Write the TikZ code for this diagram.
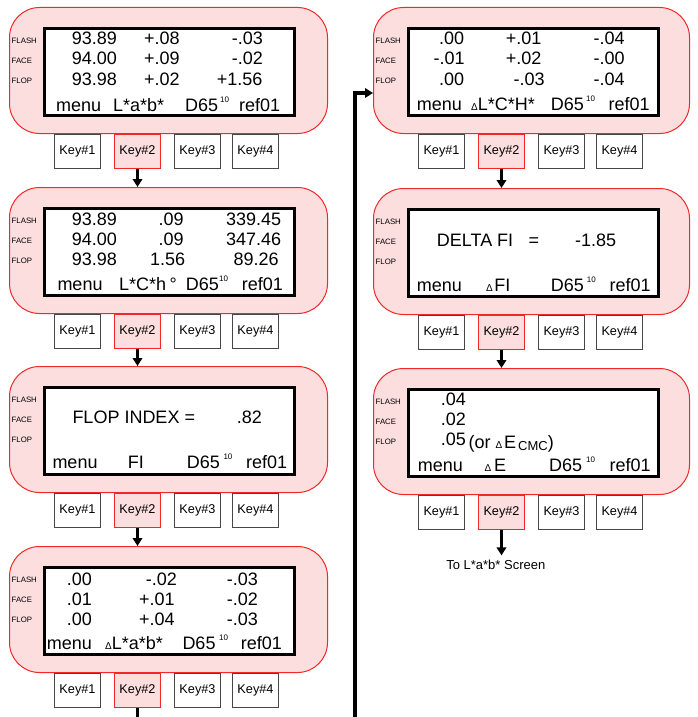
\documentclass[tikz,border=0pt]{standalone}
\usepackage{fontspec}
\setmainfont{Liberation Sans}
\usetikzlibrary{arrows.meta}
\definecolor{pfill}{RGB}{253,222,223}
\definecolor{pdraw}{RGB}{240,40,40}
\definecolor{kdraw}{RGB}{70,70,70}
\tikzset{
 panel/.style={draw=pdraw, fill=pfill, line width=1pt, rounded corners=30pt, minimum height=126pt, inner sep=0pt, anchor=north west},
 lcd/.style={draw=black, fill=white, line width=3pt, minimum width=250pt, minimum height=87pt, inner sep=0pt, anchor=north west},
 lab/.style={font=\fontsize{7.8}{9}\selectfont, inner sep=0pt, anchor=west},
 keyb/.style={draw=kdraw, fill=white, line width=0.8pt, minimum width=46.2pt, minimum height=34.2pt, inner sep=0pt, anchor=north west, font=\fontsize{12.7}{14}\selectfont},
 keyr/.style={keyb, draw=pdraw, fill=pfill},
 bt/.style={font=\fontsize{18}{20}\selectfont, inner sep=0pt, anchor=base west},
 sp/.style={font=\fontsize{8}{9}\selectfont, inner sep=0pt, anchor=base west},
 conn/.style={line width=3.2pt, -{Triangle[length=8pt,width=9.5pt]}},
 plainline/.style={line width=3.2pt},
}
\newcommand\mydelta{{\fontsize{10}{10}\selectfont Δ}}
\newcommand\pframe[4]{%
 \begin{scope}[shift={(#2,#3)}]
  \node[panel, minimum width=#4pt] (#1) at (0,0) {};
  \node[lcd] (#1lcd) at (34,20) {};
  \node[lab] (#1fl) at (2.5,34) {FLASH};
  \node[lab] (#1fa) at (2.5,54) {FACE};
  \node[lab] (#1fo) at (2.5,73.5) {FLOP};
  \node[keyb] (#1ka) at (45,127) {Key\#1};
  \node[keyr] (#1kb) at (105,127) {Key\#2};
  \node[keyb] (#1kc) at (165,127) {Key\#3};
  \node[keyb] (#1kd) at (223,127) {Key\#4};
 \end{scope}}
\begin{document}
\begin{tikzpicture}[x=1pt,y=-1pt]
\useasboundingbox (0,0) rectangle (697,717);
\pframe{L1}{9}{7}{318}
\pframe{L2}{9}{187}{318}
\pframe{L3}{9}{366}{318}
\pframe{L4}{9}{546}{318}
\pframe{R1}{373}{7}{316}
\pframe{R2}{373}{188}{316}
\pframe{R3}{373}{368}{316}

% Panel L1
\node[bt] (L1a1) at (71.7,45) {93.89};
\node[bt] (L1a2) at (144,45) {+.08};
\node[bt] (L1a3) at (231.7,45) {-.03};
\node[bt] (L1b1) at (71.7,65) {94.00};
\node[bt] (L1b2) at (144,65) {+.09};
\node[bt] (L1b3) at (231.7,65) {-.02};
\node[bt] (L1c1) at (71.7,85) {93.98};
\node[bt] (L1c2) at (144,85) {+.02};
\node[bt] (L1c3) at (216.7,85) {+1.56};
\node[bt] (L1m) at (56,111) {menu};
\node[bt] (L1s) at (113,111) {L*a*b*};
\node[bt] (L1d) at (185,111) {D65};
\node[sp] (L1t) at (220,102) {10};
\node[bt] (L1r) at (239,111) {ref01};

% Panel L2
\node[bt] (L2a1) at (71.7,225) {93.89};
\node[bt] (L2a2) at (158.3,225) {.09};
\node[bt] (L2a3) at (226,225) {339.45};
\node[bt] (L2b1) at (71.7,245) {94.00};
\node[bt] (L2b2) at (158.3,245) {.09};
\node[bt] (L2b3) at (226,245) {347.46};
\node[bt] (L2c1) at (71.7,265) {93.98};
\node[bt] (L2c2) at (150,265) {1.56};
\node[bt] (L2c3) at (233.3,265) {89.26};
\node[bt] (L2m) at (57.3,290) {menu};
\node[bt] (L2s) at (119,290) {L*C*h};
\node[bt] (L2g) at (169.5,290) {°};
\node[bt] (L2d) at (185.7,290) {D65};
\node[sp] (L2t) at (219,281) {10};
\node[bt] (L2r) at (241.7,290) {ref01};

% Panel L3
\node[bt] (L3a1) at (72.3,423.3) {FLOP INDEX =};
\node[bt] (L3a2) at (236.7,423.3) {.82};
\node[bt] (L3m) at (52.3,468.3) {menu};
\node[bt] (L3s) at (127.7,468.3) {FI};
\node[bt] (L3d) at (186.7,468.3) {D65};
\node[sp] (L3t) at (223.3,459.3) {10};
\node[bt] (L3r) at (246,468.3) {ref01};

% Panel L4
\node[bt] (L4a1) at (66.7,585) {.00};
\node[bt] (L4a2) at (145.7,585) {-.02};
\node[bt] (L4a3) at (226.7,585) {-.03};
\node[bt] (L4b1) at (66.7,605) {.01};
\node[bt] (L4b2) at (139,605) {+.01};
\node[bt] (L4b3) at (226.7,605) {-.02};
\node[bt] (L4c1) at (66.7,625) {.00};
\node[bt] (L4c2) at (139,625) {+.04};
\node[bt] (L4c3) at (226.7,625) {-.03};
\node[bt] (L4m) at (46.7,649.3) {menu};
\node[bt] (L4s) at (105,649.3) {\mydelta L*a*b*};
\node[bt] (L4d) at (182.3,649.3) {D65};
\node[sp] (L4t) at (219,640.3) {10};
\node[bt] (L4r) at (240.7,649.3) {ref01};

% Panel R1
\node[bt] (R1a1) at (439,45) {.00};
\node[bt] (R1a2) at (505.7,45) {+.01};
\node[bt] (R1a3) at (593.3,45) {-.04};
\node[bt] (R1b1) at (433.3,65) {-.01};
\node[bt] (R1b2) at (505.7,65) {+.02};
\node[bt] (R1b3) at (593.3,65) {-.00};
\node[bt] (R1c1) at (439,85) {.00};
\node[bt] (R1c2) at (513.3,85) {-.03};
\node[bt] (R1c3) at (593.3,85) {-.04};
\node[bt] (R1m) at (416.7,110) {menu};
\node[bt] (R1s) at (471,110) {\mydelta L*C*H*};
\node[bt] (R1d) at (550.7,110) {D65};
\node[sp] (R1t) at (586,101) {10};
\node[bt] (R1r) at (608.3,110) {ref01};

% Panel R2
\node[bt] (R2a1) at (436.7,246.7) {DELTA FI};
\node[bt] (R2a2) at (528.3,246.7) {=};
\node[bt] (R2a3) at (575,246.7) {-1.85};
\node[bt] (R2m) at (416.7,291) {menu};
\node[bt] (R2s) at (486,291) {\mydelta\kern1.5pt FI};
\node[bt] (R2d) at (550.7,291) {D65};
\node[sp] (R2t) at (586.7,282) {10};
\node[bt] (R2r) at (609.3,291) {ref01};

% Panel R3
\node[bt] (R3a1) at (440.7,405.7) {.04};
\node[bt] (R3b1) at (440.7,425.7) {.02};
\node[bt] (R3c1) at (440.7,445) {.05};
\node[bt] (R3c2) at (468.3,448.3) {(or \mydelta\kern2pt E\kern2pt{\fontsize{13}{14}\selectfont\raisebox{-2pt}{CMC}})};
\node[bt] (R3m) at (417.7,471) {menu};
\node[bt] (R3s) at (484.3,471) {\mydelta\kern3pt E};
\node[bt] (R3d) at (549,471) {D65};
\node[sp] (R3t) at (586,462) {10};
\node[bt] (R3r) at (609.3,471) {ref01};

% Connectors
\draw[conn] (L1kb.south) -- (L1kb.south |- L2.north);
\draw[conn] (L2kb.south) -- (L2kb.south |- L3.north);
\draw[conn] (L3kb.south) -- (L3kb.south |- L4.north);
\coordinate (lend) at (137.5,717);
\draw[plainline] (L4kb.south) -- (L4kb.south |- lend);
\draw[conn] (R1kb.south) -- (R1kb.south |- R2.north);
\draw[conn] (R2kb.south) -- (R2kb.south |- R3.north);
\node[font=\fontsize{13}{14}\selectfont, inner sep=0pt, anchor=base] (tolab) at (495.8,569) {To L*a*b* Screen};
\coordinate (tolabtop) at ([yshift=4pt]tolab.north);
\draw[conn] (R3kb.south) -- (R3kb.south |- tolabtop);
\coordinate (vb) at (355,717);
\coordinate (vc) at (355,93);
\draw[conn] (vb) -- (vc) -- (vc -| R1.west);
\end{tikzpicture}
\end{document}
